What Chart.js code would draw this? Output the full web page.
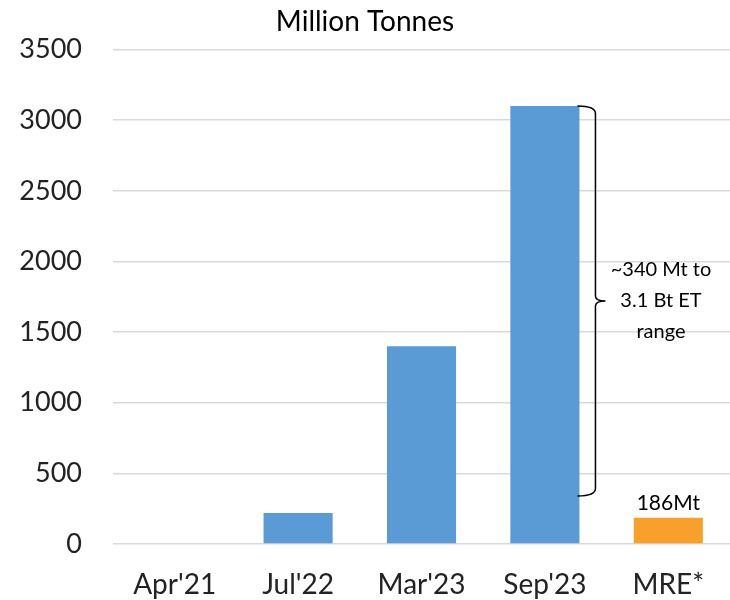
<!DOCTYPE html>
<html>
<head>
<meta charset="utf-8">
<script src="https://cdn.jsdelivr.net/npm/chart.js@4"></script>
<style>
  html, body { margin: 0; padding: 0; background: #fff; }
  #wrap { width: 730px; height: 600px; }
</style>
</head>
<body>
<div id="wrap"><canvas id="mainChart"></canvas></div>
<script>
// ---------- DATA ----------
const labels = ["Apr'21", "Jul'22", "Mar'23", "Sep'23", "MRE*"];
const tonnes = [0, 220, 1400, 3100, 186];
const barColors = ["#5B9BD5", "#5B9BD5", "#5B9BD5", "#5B9BD5", "#F8A02C"];
const rangeLow = 340;
const rangeHigh = 3100;
const rangeText = ["~340 Mt to", "3.1 Bt ET", "range"];
const mreText = "186Mt";

const FONT = "Lato, 'Noto Sans', sans-serif";

// brace + text annotations
const annotations = {
  id: 'annotations',
  afterDatasetsDraw(chart) {
    const { ctx, scales: { y } } = chart;
    const meta = chart.getDatasetMeta(0);
    const sep = meta.data[3];
    const mre = meta.data[4];
    const x0 = sep.x + sep.width / 2 - 2;
    const xv = x0 + 18;
    const yTop = y.getPixelForValue(rangeHigh);
    const yBot = y.getPixelForValue(rangeLow);
    const yMid = (yTop + yBot) / 2;
    const r = 5;

    ctx.save();
    ctx.strokeStyle = '#000';
    ctx.lineWidth = 1.5;
    ctx.beginPath();
    ctx.moveTo(x0, yTop);
    ctx.quadraticCurveTo(xv, yTop, xv, yTop + r * 1.5);
    ctx.lineTo(xv, yMid - r);
    ctx.quadraticCurveTo(xv, yMid, xv + 10, yMid);
    ctx.moveTo(xv + 10, yMid);
    ctx.quadraticCurveTo(xv, yMid, xv, yMid + r);
    ctx.lineTo(xv, yBot - r * 1.5);
    ctx.quadraticCurveTo(xv, yBot, x0, yBot);
    ctx.stroke();

    ctx.fillStyle = '#000';
    ctx.textAlign = 'center';
    ctx.textBaseline = 'middle';
    ctx.font = "20px " + FONT;
    rangeText.forEach((t, i) => ctx.fillText(t, 661, yMid - 31 + i * 31));

    ctx.font = "21px " + FONT;
    ctx.fillText(mreText, mre.x, mre.y - 14);
    ctx.restore();
  }
};

new Chart(document.getElementById('mainChart').getContext('2d'), {
  type: 'bar',
  data: {
    labels,
    datasets: [{
      data: tonnes,
      backgroundColor: barColors,
      borderWidth: 0,
      barPercentage: 0.56,
      categoryPercentage: 1
    }]
  },
  options: {
    responsive: true,
    maintainAspectRatio: false,
    animation: false,
    layout: { padding: 0 },
    plugins: {
      legend: { display: false },
      tooltip: { enabled: false },
      title: {
        display: true,
        text: 'Million Tonnes',
        color: '#000',
        font: { family: FONT, size: 28, weight: 'normal' },
        padding: { top: 5, bottom: 11 }
      }
    },
    scales: {
      x: {
        grid: { display: false },
        border: { display: false },
        ticks: { color: '#222', font: { family: FONT, size: 28 }, padding: 16 },
        afterFit(s) { s.height = 56; }
      },
      y: {
        min: 0,
        max: 3500,
        ticks: {
          stepSize: 500,
          color: '#222',
          font: { family: FONT, size: 27 },
          padding: 31,
          callback: v => String(v)
        },
        grid: { color: '#D9D9D9', lineWidth: 1.5, drawTicks: false },
        border: { display: false },
        afterFit(s) { s.width = 113; }
      }
    }
  },
  plugins: [annotations]
});
</script>
</body>
</html>
